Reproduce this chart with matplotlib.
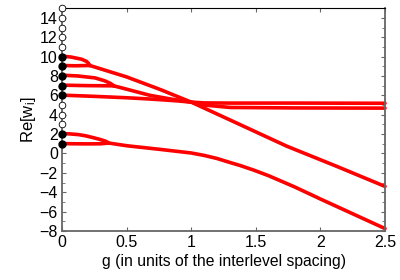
import numpy as np
import matplotlib
matplotlib.use("Agg")
import matplotlib.pyplot as plt
from matplotlib.ticker import MultipleLocator

plt.rcParams['font.family'] = ['Liberation Sans', 'DejaVu Sans']
plt.rcParams['mathtext.default'] = 'regular'

# levels at g = 0
filled_levels = [1, 2, 6, 7, 8, 9, 10]
empty_levels = [3, 4, 5, 11, 12, 13, 14, 15]

# pair starting at 1 and 2
up12_g = [0, 0.06, 0.125, 0.18, 0.23, 0.28, 0.31, 0.34, 0.355, 0.36]
up12_v = [2.05, 2.02, 1.95, 1.83, 1.67, 1.5, 1.38, 1.25, 1.14, 1.08]
lo12_g = [0, 0.1, 0.2, 0.3, 0.36]
lo12_v = [1.02, 1.0, 0.99, 1.0, 1.08]
mid12_g = [0.36, 0.5, 0.76, 1.0, 1.1, 1.2, 1.28, 1.38, 1.48, 1.6, 1.8, 2.0, 2.5]
mid12_v = [1.08, 0.8, 0.42, 0.05, -0.2, -0.52, -0.85, -1.25, -1.7, -2.3, -3.45, -4.7, -7.75]

# pair starting at 9 and 10
up910_g = [0, 0.07, 0.15, 0.19, 0.205, 0.215]
up910_v = [10.05, 9.95, 9.73, 9.5, 9.3, 9.08]
lo910_g = [0, 0.1, 0.215]
lo910_v = [9.08, 9.05, 9.08]
mid910_g = [0.215, 0.5, 0.76, 1.0, 1.35, 1.74, 2.13, 2.5]
mid910_v = [9.08, 7.9, 6.6, 5.3, 3.15, 0.75, -1.35, -3.4]

# pair starting at 7 and 8
up78_g = [0, 0.12, 0.255, 0.33, 0.37, 0.39, 0.40]
up78_v = [8.08, 8.0, 7.8, 7.5, 7.26, 7.1, 6.98]
lo78_g = [0, 0.2, 0.4]
lo78_v = [7.05, 7.0, 6.98]
mid78_g = [0.40, 0.51, 0.68, 0.85, 1.0, 1.1, 1.3, 1.8, 2.5]
mid78_v = [6.98, 6.6, 6.0, 5.6, 5.3, 5.22, 5.2, 5.2, 5.18]

# level starting at 6
line6_g = [0, 0.24, 0.5, 0.68, 0.76, 0.9, 1.0, 1.1, 1.3, 1.8, 2.5]
line6_v = [6.02, 5.9, 5.75, 5.62, 5.55, 5.42, 5.3, 5.0, 4.75, 4.7, 4.68]

fig = plt.figure(figsize=(4, 2.8), dpi=100)
ax = fig.add_axes([0.155, 0.175, 0.8075, 0.796])

branches = [(up12_g, up12_v), (lo12_g, lo12_v), (mid12_g, mid12_v),
            (up910_g, up910_v), (lo910_g, lo910_v), (mid910_g, mid910_v),
            (up78_g, up78_v), (lo78_g, lo78_v), (mid78_g, mid78_v),
            (line6_g, line6_v)]
for g, v in branches:
    ax.plot(g, v, color='red', lw=2.6, solid_capstyle='round',
            solid_joinstyle='round', clip_on=False)

ax.plot([0] * len(empty_levels), empty_levels, 'o', ms=4.8, mfc='white',
        mec='black', mew=0.6, clip_on=False, zorder=5)
ax.plot([0] * len(filled_levels), filled_levels, 'o', ms=5, color='black',
        clip_on=False, zorder=5)

ax.set_xlim(0, 2.5)
ax.set_ylim(-8, 15)
ax.yaxis.set_minor_locator(MultipleLocator(1))
ax.set_xticks([0, 0.5, 1, 1.5, 2, 2.5])
ax.set_xticklabels(['0', '0.5', '1', '1.5', '2', '2.5'])
ax.set_yticks(range(-8, 15, 2))

ax.tick_params(which='both', direction='in', top=True, right=True,
               labelsize=11.5, color='#666666', pad=3)
ax.tick_params(which='major', length=3)
ax.tick_params(which='minor', length=2)
for side in ['left', 'bottom', 'right']:
    ax.spines[side].set_color('#666666')
    ax.spines[side].set_linewidth(1.3)
ax.spines['top'].set_color('black')
ax.spines['top'].set_linewidth(0.8)

ax.set_xlabel('g (in units of the interlevel spacing)', fontsize=11.3, labelpad=3)
ax.set_ylabel('Re[w$_i$]', fontsize=12, labelpad=1)

fig.savefig('out.png', dpi=100)
